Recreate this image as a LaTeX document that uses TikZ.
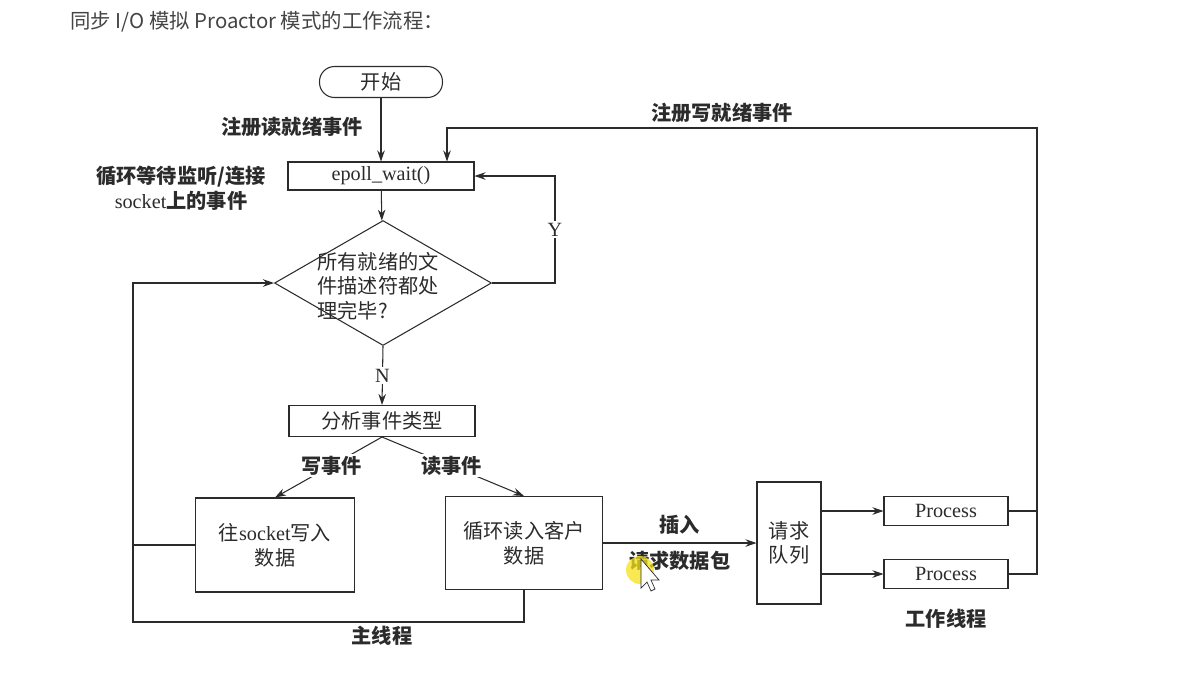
\documentclass[tikz,border=0pt]{standalone}
\usepackage{fontspec}
\setmainfont{Liberation Serif}
\newfontfamily\cjk{Noto Sans CJK SC}
\usepackage{xcolor}
\usepackage{tikz}
\usetikzlibrary{shapes.geometric,arrows.meta,positioning,calc}
\definecolor{ink}{HTML}{2B2B2B}
\definecolor{titlegray}{HTML}{444444}
\definecolor{hilite}{HTML}{F5E21B}

\begin{document}
\begin{tikzpicture}[
  x=0.02cm, y=-0.02cm,
  line width=0.6pt, draw=ink, text=ink,
  >={Stealth[length=2.2mm,width=1.5mm]},
  font=\cjk\fontsize{11.5}{14}\selectfont,
  box/.style={rectangle, draw=ink, align=center, inner sep=2pt},
  term/.style={rectangle, draw=ink, rounded corners=0.3cm,
               minimum width=2.46cm, minimum height=0.62cm},
  cond/.style={diamond, draw=ink, inner sep=0pt,
               minimum width=4.34cm, minimum height=2.5cm},
  lbl/.style={align=center, font=\cjk\bfseries\fontsize{11.5}{14}\selectfont},
  cut/.style={fill=white, inner sep=1pt},
]
  \useasboundingbox (0,0) rectangle (1194,681);
  % title line
  \node[anchor=west, text=titlegray, font=\cjk\fontsize{11.6}{13}\selectfont] (title) at (64,22)
    {同步 I/O 模拟 Proactor 模式的工作流程：};
  % MAIN THREAD
  \node[term] (start) at (381,82) {开始};
  \node[box, minimum width=3.72cm, minimum height=0.56cm] (epoll) at (381,176) {\rmfamily epoll\_wait()};
  \node[lbl] (waitlbl) at (181,188) {循环等待监听/连接\\{\rmfamily\mdseries socket}上的事件};
  \node[cond] (dec) at (383,283) {};
  \node[align=left, inner sep=0pt] (dectext) at (378,286) {所有就绪的文\\件描述符都处\\理完毕?};
  \node[box, minimum width=3.72cm, minimum height=0.62cm] (analyze) at (382,421) {分析事件类型};
  \node[box, minimum width=3.18cm, minimum height=1.88cm] (writebox) at (275,545) {往{\rmfamily socket}写入\\数据};
  \node[box, minimum width=3.14cm, minimum height=1.86cm] (readbox) at (524,543) {循环读入客户\\数据};
  % WORKER THREADS
  \node[box, minimum width=1.28cm, minimum height=2.44cm] (queue) at (789,543) {请求\\队列};
  \node[box, minimum width=2.48cm, minimum height=0.58cm] (proc1) at (946,511) {\rmfamily Process};
  \node[box, minimum width=2.48cm, minimum height=0.58cm] (proc2) at (946,574) {\rmfamily Process};
  % labels
  \node[lbl] (regread) at (292,127) {注册读就绪事件};
  \node[lbl] (regwrite) at (722,113) {注册写就绪事件};
  \node[lbl] (mainlbl) at (382,636) {主线程};
  \node[lbl] (worklbl) at (946,619) {工作线程};
  % bus corners
  \coordinate (rbus) at (1037,128);
  \coordinate (wtop) at (447,128);
  \coordinate (lbus) at (133,622);
  % flow
  \draw[->] (start) -- (epoll);
  \draw[->] (epoll) -- (dec);
  \draw[->] (dec.east) -- ++(63,0) |- node[pos=0.25, cut, font=\rmfamily\fontsize{11.5}{14}\selectfont]{Y} (epoll.east);
  \draw[->] (dec.south) -- node[cut, font=\rmfamily\fontsize{11.5}{14}\selectfont]{N} (analyze.north);
  \draw[->] (analyze.south) -- node[cut, lbl, pos=0.47]{写事件} (writebox.north);
  \draw[->] (analyze.south) -- node[cut, lbl, pos=0.49]{读事件} (readbox.north);
  \draw[->] (readbox.south) |- (lbus) |- (dec.west);
  \draw (writebox.west) -- (writebox.west -| lbus);
  \draw[->] (readbox.east) -- node[lbl, above=1pt]{插入} node[lbl, below=1pt]{请求数据包} (queue.west);
  \draw[->] (queue.east |- proc1) -- (proc1.west);
  \draw[->] (queue.east |- proc2) -- (proc2.west);
  \draw (proc1.east) -- (proc1.east -| rbus);
  \draw[->] (proc2.east) -| (rbus) -- (wtop) -- (wtop |- epoll.north);
  % screen pointer
  \fill[hilite, opacity=0.75] (640,570) circle (14);
  \draw[line width=0.4pt, fill=white] (641,559) -- (641,588) -- (647,582) -- (651,591) -- (655,589) -- (651,580) -- (659,580) -- cycle;
\end{tikzpicture}
\end{document}
